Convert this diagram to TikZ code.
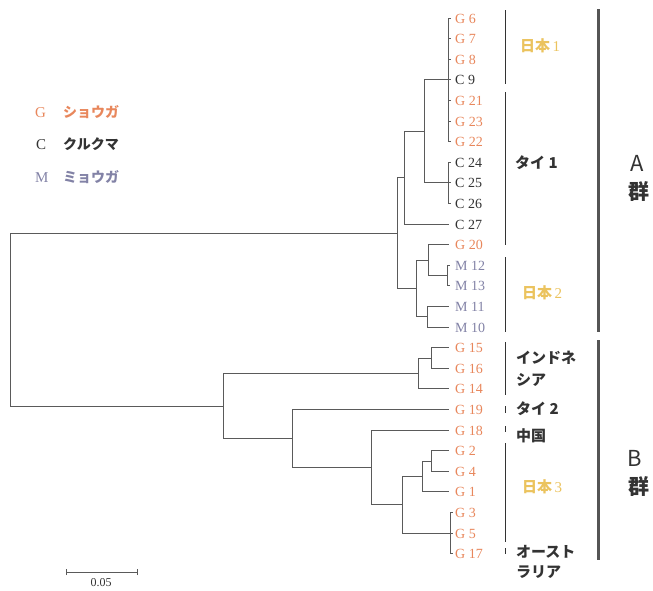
\documentclass[tikz,border=0pt]{standalone}
\usepackage{fontspec}
\setmainfont{Liberation Serif}
\newfontfamily\jp{Noto Sans CJK JP}
\definecolor{ginger}{HTML}{E8875C}
\definecolor{goldjp}{HTML}{EBC35E}
\definecolor{myoga}{HTML}{8282A6}
\definecolor{curc}{HTML}{333333}
\definecolor{branch}{HTML}{5A5A5A}
\definecolor{barc}{HTML}{555555}
\begin{document}
\begin{tikzpicture}[x=1pt,y=-1pt,
  br/.style={draw=branch, line width=0.8pt},
  brk/.style={draw=curc, line width=0.8pt},
  gbar/.style={draw=barc, line width=3pt},
  leaf/.style={anchor=base west, inner sep=0pt, font=\fontsize{14}{14}\selectfont},
  jpl/.style={inner sep=0pt, font=\jp\bfseries\fontsize{15}{17}\selectfont},
  grp/.style={inner sep=0pt, font=\jp\fontsize{22}{24}\selectfont, text=curc},
  leg/.style={anchor=base west, inner sep=0pt, font=\fontsize{15}{15}\selectfont},
  legjp/.style={anchor=base west, inner sep=0pt, font=\jp\bfseries\fontsize{14}{15}\selectfont}]
\useasboundingbox (0,0) rectangle (653,590);

% leaf labels and tips
\foreach \L/\N/\k/\c/\tx in {
  G/6/0/ginger/450.5, G/7/1/ginger/450.5, G/8/2/ginger/450.5, C/9/3/curc/450.5,
  G/21/4/ginger/450.5, G/23/5/ginger/450.5, G/22/6/ginger/450.5,
  C/24/7/curc/450.5, C/25/8/curc/450.5, C/26/9/curc/450.5, C/27/10/curc/448.5,
  G/20/11/ginger/448.5, M/12/12/myoga/449.5, M/13/13/myoga/449.5, M/11/14/myoga/448.5, M/10/15/myoga/448.5,
  G/15/16/ginger/448.5, G/16/17/ginger/448.5, G/14/18/ginger/448.5, G/19/19/ginger/448.5,
  G/18/20/ginger/448.5, G/2/21/ginger/448.5, G/4/22/ginger/448.5, G/1/23/ginger/448.5,
  G/3/24/ginger/452.5, G/5/25/ginger/452.5, G/17/26/ginger/452.5}{
  \node[leaf, text=\c] (l\L\N) at (455, {18+20.6*\k+5}) {\L\ \N};
  \coordinate (t\L\N) at (\tx, {18+20.6*\k});
}

% internal nodes
\coordinate (cA) at (448, 79.8);
\coordinate (cC) at (448, 182.8);
\coordinate (n424) at (424, 131.3);
\coordinate (n404) at (404, 177.6);
\coordinate (cM) at (447, 275.5);
\coordinate (n428) at (428, 260.05);
\coordinate (n427) at (427, 316.7);
\coordinate (n416) at (416, 288.4);
\coordinate (n397) at (397, 233);
\coordinate (n431) at (431, 357.9);
\coordinate (n418) at (418, 373.35);
\coordinate (n431b) at (431, 460.9);
\coordinate (n422) at (422, 476.35);
\coordinate (cG) at (450, 533);
\coordinate (n402) at (402, 504.7);
\coordinate (n371) at (371, 467.35);
\coordinate (n292) at (292, 438.4);
\coordinate (n223) at (223, 405.9);
\coordinate (root) at (10, 319.5);

% branches
\foreach \t in {tG6,tG7,tG8,tC9,tG21,tG23,tG22} \draw[br] (cA) |- (\t);
\foreach \t in {tC24,tC25,tC26} \draw[br] (cC) |- (\t);
\draw[br] (n424) |- (cA);
\draw[br] (n424) |- (cC);
\draw[br] (n404) |- (n424);
\draw[br] (n404) |- (tC27);
\foreach \t in {tM12,tM13} \draw[br] (cM) |- (\t);
\draw[br] (n428) |- (tG20);
\draw[br] (n428) |- (cM);
\draw[br] (n427) |- (tM11);
\draw[br] (n427) |- (tM10);
\draw[br] (n416) |- (n428);
\draw[br] (n416) |- (n427);
\draw[br] (n397) |- (n404);
\draw[br] (n397) |- (n416);
\draw[br] (n431) |- (tG15);
\draw[br] (n431) |- (tG16);
\draw[br] (n418) |- (n431);
\draw[br] (n418) |- (tG14);
\draw[br] (n431b) |- (tG2);
\draw[br] (n431b) |- (tG4);
\draw[br] (n422) |- (n431b);
\draw[br] (n422) |- (tG1);
\foreach \t in {tG3,tG5,tG17} \draw[br] (cG) |- (\t);
\draw[br] (n402) |- (n422);
\draw[br] (n402) |- (cG);
\draw[br] (n371) |- (tG18);
\draw[br] (n371) |- (n402);
\draw[br] (n292) |- (tG19);
\draw[br] (n292) |- (n371);
\draw[br] (n223) |- (n418);
\draw[br] (n223) |- (n292);
\draw[br] (root) |- (n397);
\draw[br] (root) |- (n223);

% region brackets
\draw[brk] (505,10) -- (505,84);
\draw[brk] (505,92) -- (505,245);
\draw[brk] (505,257) -- (505,332);
\draw[brk] (505,342) -- (505,395);
\draw[brk] (505,406) -- (505,413);
\draw[brk] (505,426) -- (505,432);
\draw[brk] (505,443) -- (505,542);
\draw[brk] (505,548) -- (505,554);

% region labels
\node[jpl, text=goldjp] (jp1) at (540,46) {日本\,{\rmfamily\mdseries 1}};
\node[jpl, text=curc, anchor=west] (thai1) at (515,163) {タイ 1};
\node[jpl, text=goldjp] (jp2) at (542,293) {日本\,{\rmfamily\mdseries 2}};
\node[jpl, text=curc, anchor=west] (indo1) at (516,358) {インドネ};
\node[jpl, text=curc, anchor=west] (indo2) at (516,380) {シア};
\node[jpl, text=curc, anchor=west] (thai2) at (516,409) {タイ 2};
\node[jpl, text=curc, anchor=west] (china) at (516,436) {中国};
\node[jpl, text=goldjp] (jp3) at (542,487) {日本\,{\rmfamily\mdseries 3}};
\node[jpl, text=curc, anchor=west] (aus1) at (516,552) {オースト};
\node[jpl, text=curc, anchor=west] (aus2) at (516,572) {ラリア};

% group bars
\draw[gbar] (598,9) -- (598,332);
\draw[gbar] (598,340) -- (598,560);
\node[grp] (gA) at (637,163) {A};
\node[grp, font=\jp\bfseries\fontsize{21}{24}\selectfont] (gA2) at (639,192) {群};
\node[grp] (gB) at (635,458) {B};
\node[grp, font=\jp\bfseries\fontsize{21}{24}\selectfont] (gB2) at (639,486) {群};

% legend
\node[leg, text=ginger] (lgG) at (35,117) {G};
\node[legjp, text=ginger] (lgGt) at (63,117) {ショウガ};
\node[leg, text=curc] (lgC) at (36,149) {C};
\node[legjp, text=curc] (lgCt) at (63,149) {クルクマ};
\node[leg, text=myoga] (lgM) at (35,182) {M};
\node[legjp, text=myoga] (lgMt) at (63,182) {ミョウガ};

% scale bar
\coordinate (sb1) at (66,572);
\coordinate (sb2) at (137,572);
\draw[br] (sb1) -- (sb2);
\draw[br] ([yshift=-3pt]sb1) -- ([yshift=3pt]sb1);
\draw[br] ([yshift=-3pt]sb2) -- ([yshift=3pt]sb2);
\node[anchor=base, inner sep=0pt, text=curc, font=\fontsize{12}{12}\selectfont] (sbl) at (101,586) {0.05};
\end{tikzpicture}
\end{document}
